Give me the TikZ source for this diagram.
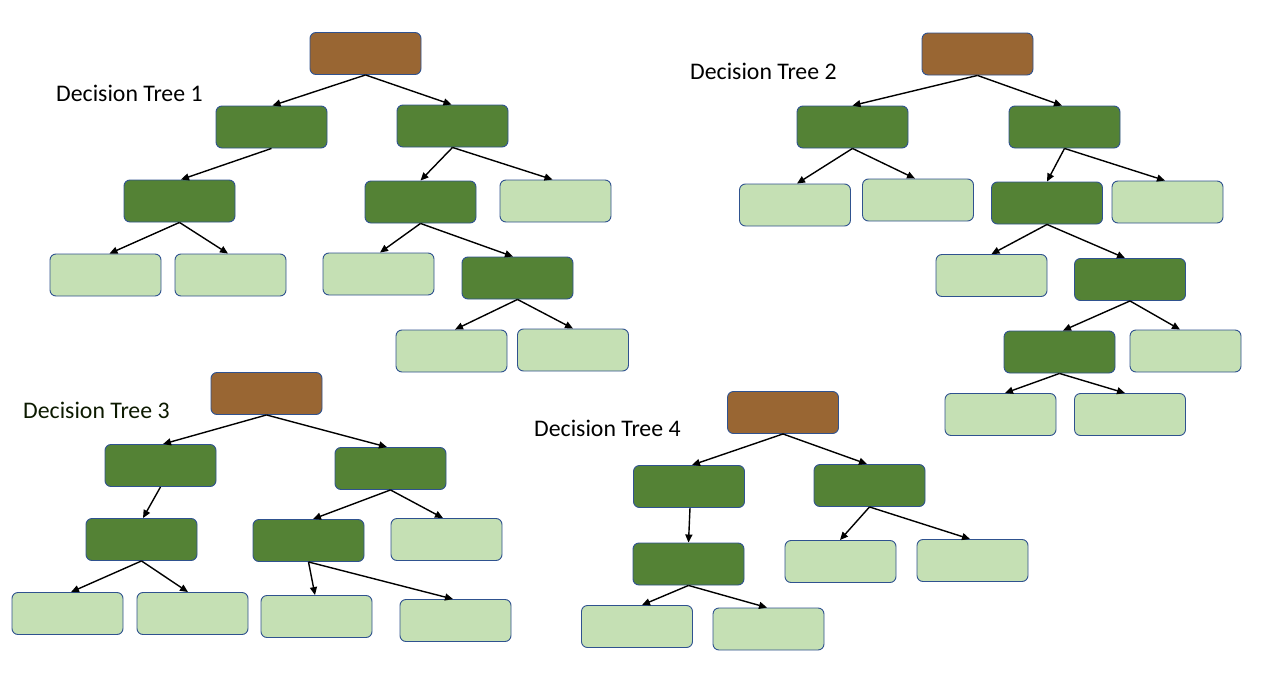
\documentclass[tikz,border=0pt]{standalone}
\usepackage{fontspec}
\setmainfont{Carlito}
\usetikzlibrary{arrows.meta}
\definecolor{rootc}{RGB}{153,102,51}
\definecolor{darkg}{RGB}{84,130,53}
\definecolor{lightg}{RGB}{197,224,180}
\definecolor{bordc}{RGB}{47,82,143}
\definecolor{txtg}{RGB}{12,26,0}
\tikzset{
  box/.style={rectangle, rounded corners=6pt, minimum width=111pt, minimum height=42pt, inner sep=0pt, draw=bordc, line width=0.9pt},
  rootbox/.style={box, fill=rootc},
  darkbox/.style={box, fill=darkg},
  leafbox/.style={box, fill=lightg},
  edge/.style={draw=black, line width=1.4pt, -{Triangle[length=8pt,width=7pt]}},
  ttl/.style={anchor=base west, inner sep=0pt, font=\fontsize{23.8}{28}\selectfont}
}
\begin{document}
\begin{tikzpicture}[x=1pt,y=-1pt]
\useasboundingbox (0,0) rectangle (1262,680);
% ---------- Tree 1
\node[ttl] (l1) at (56,101) {Decision Tree 1};
\node[rootbox] (ar) at (365.5,53.5) {};
\node[darkbox] (aa) at (271.5,127) {};
\node[darkbox] (ab) at (452.5,126) {};
\node[darkbox] (ac) at (179.5,201) {};
\node[darkbox] (ad) at (420.5,202) {};
\node[leafbox] (ae) at (555.5,201) {};
\node[leafbox] (af) at (105.5,275) {};
\node[leafbox] (ag) at (230.5,275) {};
\node[leafbox] (ah) at (378.5,274) {};
\node[darkbox] (ai) at (517.5,278) {};
\node[leafbox] (aj) at (451.5,351) {};
\node[leafbox] (ak) at (573,350) {};
\draw[edge] (ar.south) -- ([xshift=1pt]aa.north);
\draw[edge] (ar.south) -- ([xshift=-1pt]ab.north);
\draw[edge] (aa.south) -- ([xshift=1.5pt]ac.north);
\draw[edge] (ab.south) -- (ad.north);
\draw[edge] (ab.south) -- ([xshift=-3pt]ae.north);
\draw[edge] (ac.south) -- ([xshift=4pt]af.north);
\draw[edge] (ac.south) -- ([xshift=-2.5pt]ag.north);
\draw[edge] (ad.south) -- ([xshift=1.5pt]ah.north);
\draw[edge] (ad.south) -- ([xshift=-4.5pt]ai.north);
\draw[edge] (ai.south) -- ([xshift=3.5pt]aj.north);
\draw[edge] (ai.south) -- (ak.north);
% ---------- Tree 2
\node[ttl] (l2) at (690,79) {Decision Tree 2};
\node[rootbox] (br) at (977.5,54) {};
\node[darkbox] (ba) at (852.5,127) {};
\node[darkbox] (bb) at (1064.5,127) {};
\node[leafbox] (bc) at (795,205) {};
\node[leafbox] (bd) at (918,200) {};
\node[darkbox] (be) at (1047,203) {};
\node[leafbox] (bf) at (1167.5,202) {};
\node[leafbox] (bg) at (991.5,275.5) {};
\node[darkbox] (bh) at (1130,279.5) {};
\node[darkbox] (bi) at (1059.5,352) {};
\node[leafbox] (bj) at (1185.5,351) {};
\node[leafbox] (bk) at (1000.5,414.5) {};
\node[leafbox] (bl) at (1130,414.5) {};
\draw[edge] (br.south) -- (ba.north);
\draw[edge] (br.south) -- ([xshift=-2.5pt]bb.north);
\draw[edge] (ba.south) -- ([xshift=2pt]bc.north);
\draw[edge] (ba.south) -- ([xshift=-3pt]bd.north);
\draw[edge] (bb.south) -- (be.north);
\draw[edge] (bb.south) -- ([xshift=-2.5pt]bf.north);
\draw[edge] (be.south) -- (bg.north);
\draw[edge] (be.south) -- ([xshift=-5pt]bh.north);
\draw[edge] (bh.south) -- ([xshift=3.5pt]bi.north);
\draw[edge] (bh.south) -- ([xshift=-5.5pt]bj.north);
\draw[edge] (bi.south) -- ([xshift=4.5pt]bk.north);
\draw[edge] (bi.south) -- ([xshift=-5pt]bl.north);
% ---------- Tree 3
\node[ttl, text=txtg] (l3) at (23,418) {Decision Tree 3};
\node[rootbox] (cr) at (266.5,393.5) {};
\node[darkbox] (ca) at (160.5,465.5) {};
\node[darkbox] (cb) at (390.5,468.5) {};
\node[darkbox] (cc) at (141.5,539.5) {};
\node[darkbox] (cd) at (308.5,540.5) {};
\node[leafbox] (ce) at (446.5,539.5) {};
\node[leafbox] (cf) at (67.5,613.5) {};
\node[leafbox] (cg) at (192.5,613.5) {};
\node[leafbox] (ch) at (316.5,616.5) {};
\node[leafbox] (ci) at (455.5,620.5) {};
\draw[edge] (cr.south) -- ([xshift=2.5pt]ca.north);
\draw[edge] (cr.south) -- ([xshift=-3.5pt]cb.north);
\draw[edge] (ca.south) -- ([xshift=1.5pt]cc.north);
\draw[edge] (cb.south) -- ([xshift=4.5pt]cd.north);
\draw[edge] (cb.south) -- ([xshift=-3.5pt]ce.north);
\draw[edge] (cc.south) -- ([xshift=3.5pt]cf.north);
\draw[edge] (cc.south) -- ([xshift=-4.5pt]cg.north);
\draw[edge] (cd.south) -- ([xshift=-1.5pt]ch.north);
\draw[edge] (cd.south) -- ([xshift=-2.5pt]ci.north);
% ---------- Tree 4
\node[ttl] (l4) at (534,436) {Decision Tree 4};
\node[rootbox] (dr) at (783,412.5) {};
\node[darkbox] (da) at (689,486.5) {};
\node[darkbox] (db) at (869.5,485.5) {};
\node[darkbox] (dc) at (688.5,564) {};
\node[leafbox] (dd) at (840.5,561.5) {};
\node[leafbox] (de) at (972.5,560.5) {};
\node[leafbox] (df) at (637,626.5) {};
\node[leafbox] (dg) at (768.5,629) {};
\draw[edge] (dr.south) -- ([xshift=3pt]da.north);
\draw[edge] (dr.south) -- ([xshift=-2.5pt]db.north);
\draw[edge] ([xshift=1pt]da.south) -- (dc.north);
\draw[edge] (db.south) -- ([xshift=-0.5pt]dd.north);
\draw[edge] (db.south) -- ([xshift=-2.5pt]de.north);
\draw[edge] (dc.south) -- ([xshift=5pt]df.north);
\draw[edge] (dc.south) -- ([xshift=-1.5pt]dg.north);
\end{tikzpicture}
\end{document}
